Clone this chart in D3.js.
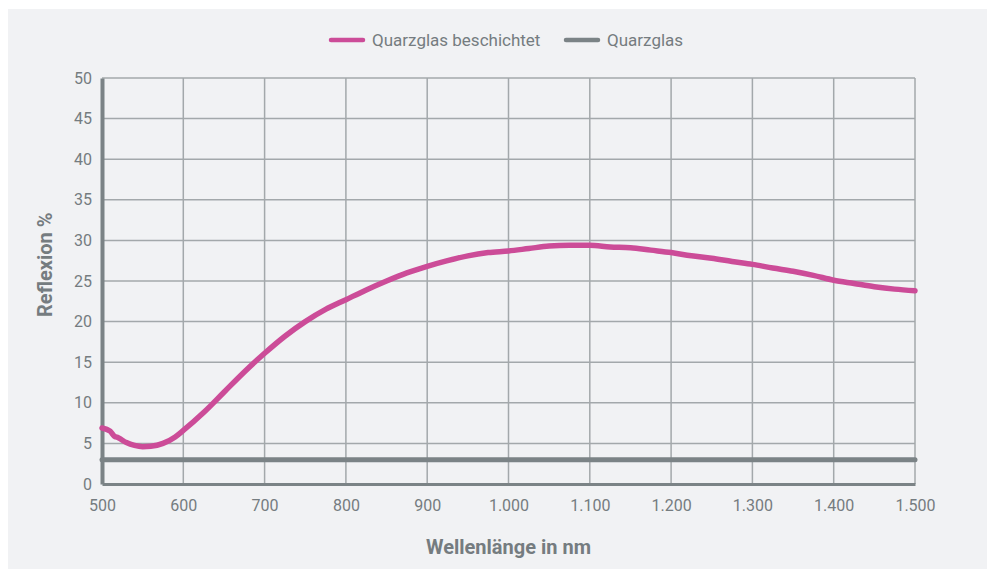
<!DOCTYPE html>
<html>
<head>
<meta charset="utf-8">
<script src="https://cdn.jsdelivr.net/npm/d3@7"></script>
<style>
  body { margin: 0; background: #fff; }
  text { font-family: Roboto, sans-serif; fill: #757c80; }
</style>
</head>
<body>
<div id="chart"></div>
<script>
// wavelengths (nm) and reflexion values (%)
const wavelengths = [500, 510, 515, 520, 530, 540, 550, 560, 575, 590, 600, 625, 650, 675, 700, 725, 750, 775, 800,
  825, 850, 875, 900, 925, 950, 975, 1000, 1025, 1050, 1075, 1100, 1125, 1150, 1175, 1200, 1225, 1250, 1275,
  1300, 1325, 1350, 1375, 1400, 1425, 1450, 1475, 1500];
const beschichtet = [6.9, 6.5, 5.9, 5.7, 5.1, 4.75, 4.6, 4.65, 5.0, 5.8, 6.6, 8.8, 11.3, 13.8, 16.1, 18.2, 20.0, 21.5, 22.7,
  23.9, 25.0, 26.0, 26.8, 27.5, 28.1, 28.5, 28.7, 29.0, 29.3, 29.4, 29.4, 29.2, 29.1, 28.8, 28.5, 28.1, 27.8, 27.4,
  27.05, 26.6, 26.2, 25.7, 25.1, 24.7, 24.3, 24.0, 23.8];
const quarzglas = [3, 3];
const quarzX = [500, 1500];
const xTicks = [500, 600, 700, 800, 900, 1000, 1100, 1200, 1300, 1400, 1500];
const yTicks = [0, 5, 10, 15, 20, 25, 30, 35, 40, 45, 50];
const seriesNames = ["Quarzglas beschichtet", "Quarzglas"];
const colors = ["#cc4c98", "#7b8386"];

const width = 987, height = 569;
const margin = {top: 78, right: 72, bottom: 85, left: 102};

const svg = d3.select("#chart").append("svg")
  .attr("width", width)
  .attr("height", height);

svg.append("rect")
  .attr("x", 8).attr("y", 9)
  .attr("width", width - 8).attr("height", height - 9)
  .attr("fill", "#f1f2f4");

const x = d3.scaleLinear().domain([500, 1500]).range([margin.left, width - margin.right]);
const y = d3.scaleLinear().domain([0, 50]).range([height - margin.bottom, margin.top]);

const de = d3.formatLocale({decimal: ",", thousands: ".", grouping: [3], currency: ["", "€"]});
const fmt = de.format(",");

// grid
svg.append("g").selectAll("line").data(xTicks.slice(1)).join("line")
  .attr("x1", d => x(d)).attr("x2", d => x(d))
  .attr("y1", y(50)).attr("y2", y(0))
  .attr("stroke", "#a3a8ab").attr("stroke-width", 1.5);
svg.append("g").selectAll("line").data(yTicks.slice(1)).join("line")
  .attr("x1", x(500)).attr("x2", x(1500))
  .attr("y1", d => y(d)).attr("y2", d => y(d))
  .attr("stroke", "#a3a8ab").attr("stroke-width", 1.5);

// axes
const xAxis = svg.append("g")
  .attr("transform", `translate(0,${y(0)})`)
  .call(d3.axisBottom(x).tickValues(xTicks).tickFormat(fmt).tickSize(0).tickPadding(16));
xAxis.select(".domain").attr("stroke", "#7b8386").attr("stroke-width", 3);
xAxis.selectAll("text").style("font-size", "16px").attr("fill", "#757c80");

const yAxis = svg.append("g")
  .attr("transform", `translate(${x(500)},0)`)
  .call(d3.axisLeft(y).tickValues(yTicks).tickSize(0).tickPadding(10));
yAxis.select(".domain").attr("stroke", "#7b8386").attr("stroke-width", 4);
yAxis.selectAll("text").style("font-size", "16px").attr("fill", "#757c80");

// lines
const line = d3.line().x(d => x(d[0])).y(d => y(d[1])).curve(d3.curveMonotoneX);

svg.append("path")
  .datum(d3.zip(quarzX, quarzglas))
  .attr("d", line)
  .attr("fill", "none")
  .attr("stroke", colors[1])
  .attr("stroke-width", 5)
  .attr("stroke-linecap", "round");

svg.append("path")
  .datum(d3.zip(wavelengths, beschichtet))
  .attr("d", line)
  .attr("fill", "none")
  .attr("stroke", colors[0])
  .attr("stroke-width", 5.5)
  .attr("stroke-linecap", "round")
  .attr("stroke-linejoin", "round");

// axis titles
svg.append("text")
  .attr("x", (x(500) + x(1500)) / 2).attr("y", 554)
  .attr("text-anchor", "middle")
  .style("font-size", "20px").style("font-weight", "bold")
  .text("Wellenlänge in nm");

svg.append("text")
  .attr("transform", `translate(52,${y(27)}) rotate(-90)`)
  .attr("text-anchor", "middle")
  .style("font-size", "20px").style("font-weight", "bold")
  .text("Reflexion %");

// legend
const legendX = [331, 566];
const legend = svg.append("g").selectAll("g").data(seriesNames).join("g")
  .attr("transform", (d, i) => `translate(${legendX[i]},40)`);
legend.append("line")
  .attr("x1", 0).attr("x2", 32)
  .attr("stroke", (d, i) => colors[i])
  .attr("stroke-width", 4.5)
  .attr("stroke-linecap", "round");
legend.append("text")
  .attr("x", 41).attr("dy", "0.35em")
  .style("font-size", "17px")
  .text(d => d);
</script>
</body>
</html>
